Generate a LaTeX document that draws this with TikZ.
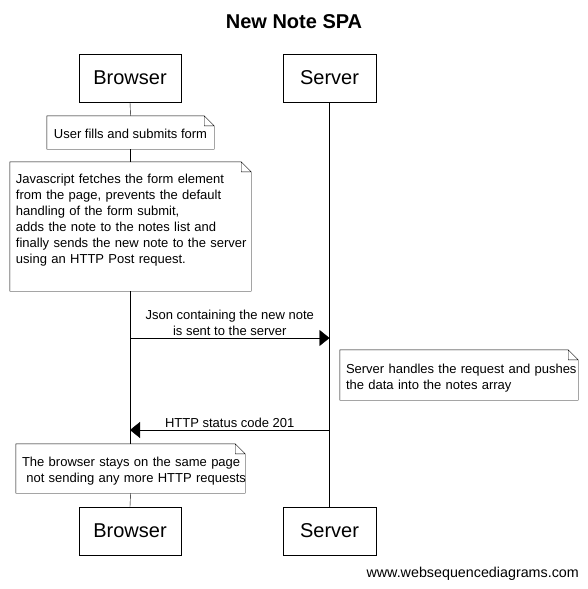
\documentclass[tikz,border=0pt]{standalone}
\usepackage{fontspec}
\setmainfont{Liberation Sans}
\usetikzlibrary{arrows.meta}

\begin{document}
\begin{tikzpicture}[x=1pt, y=-1pt,
    actor/.style={draw, rectangle, minimum height=48pt, font=\fontsize{20}{24}\selectfont},
    note/.style={rectangle, inner ysep=0pt, inner xsep=6pt, align=left, font=\fontsize{13}{16}\selectfont},
    msg/.style={-{Triangle[length=10pt,width=16pt]}},
    label/.style={inner sep=2pt, align=center, font=\fontsize{13}{16}\selectfont}]
    \useasboundingbox (0,0) rectangle (588,589);

    % title
    \node (title) at (294,22) {\fontsize{20}{24}\selectfont\bfseries New Note SPA};

    % participants
    \node [actor, minimum width=102pt] (btop) at (130,78) {Browser};
    \node [actor, minimum width=93pt] (stop) at (329.5,78) {Server};
    \node [actor, minimum width=102pt] (bbot) at (130,531) {Browser};
    \node [actor, minimum width=93pt] (sbot) at (329.5,531) {Server};

    % notes
    \node [note, minimum width=167pt, minimum height=33pt, align=center] (fill) at (130.5,132.5) {\rule{0pt}{12pt}User fills and submits form};
    \node [note, text width=229pt, minimum height=129pt] (js) at (130.5,226.5) {\mbox{Javascript fetches the form element}\\
        \mbox{from the page, prevents the default}\\
        \mbox{handling of the form submit,}\\
        \mbox{adds the note to the notes list and}\\
        \mbox{finally sends the new note to the server}\\
        \mbox{using an HTTP Post request.}\\ \mbox{}};
    \node [note, text width=226pt, minimum height=50pt] (srv) at (459,375) {\mbox{\rule{0pt}{15.5pt}Server handles the request and pushes}\\
        \mbox{the data into the notes array}};
    \node [note, text width=217pt, minimum height=49pt] (stay) at (130.5,468.5) {\mbox{\rule{0pt}{15.5pt}The browser stays on the same page}\\
        \mbox{\ not sending any more HTTP requests}};

    \foreach \n in {fill,js,srv,stay} {
        \draw ([xshift=-10pt]\n.north east) -- (\n.north west) -- (\n.south west) -- (\n.south east) -- ([yshift=-10pt]\n.north east) -- ([xshift=-10pt]\n.north east) |- ([yshift=-10pt]\n.north east);
    }

    % lifelines
    \draw (btop.south) -- (fill.north);
    \draw (fill.south) -- (js.north);
    \draw (js.south) -- (stay.north);
    \draw (stay.south) -- (bbot.north);
    \draw (stop.south) -- (sbot.north);

    % messages
    \coordinate (b1) at (130,338);
    \coordinate (s1) at (329.5,338);
    \coordinate (s2) at (329.5,430);
    \coordinate (b2) at (130,430);
    \draw [msg] (b1) -- node [label, above] {Json containing the new note\\is sent to the server} (s1);
    \draw [msg] (s2) -- node [label, above] {HTTP status code 201} (b2);

    % footer
    \node [anchor=east, inner sep=0pt, font=\fontsize{14.3}{17}\selectfont] (www) at (579,574) {www.websequencediagrams.com};
\end{tikzpicture}
\end{document}
